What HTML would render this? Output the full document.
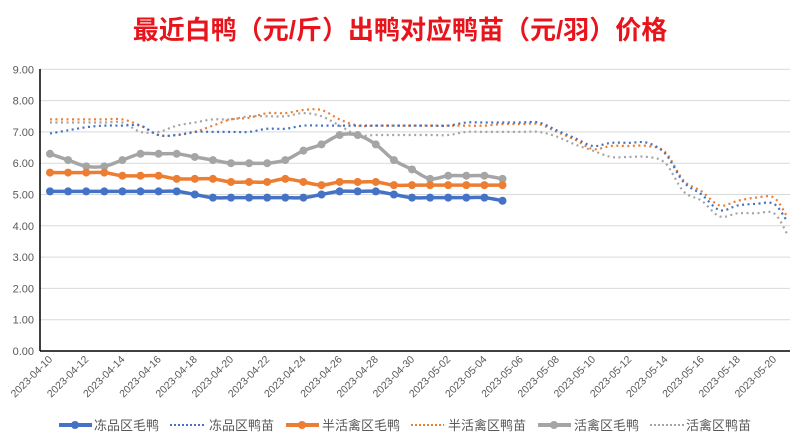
<!DOCTYPE html>
<html><head><meta charset="utf-8"><style>
body{margin:0;background:#fff;width:800px;height:443px;overflow:hidden;font-family:"Liberation Sans","Noto Sans CJK SC",sans-serif}
</style></head><body>
<svg id="s" width="800" height="443" xmlns="http://www.w3.org/2000/svg" font-family="Liberation Sans, Noto Sans CJK SC, sans-serif">
<text x="400" y="39" text-anchor="middle" font-size="26" font-weight="bold" fill="#e8141c">最近白鸭（元/斤）出鸭对应鸭苗（元/羽）价格</text>
<g id="grid"></g><g id="lines"></g><g id="lab"></g>
<g font-size="13" fill="#595959">
<line x1="59" y1="425" x2="92" y2="425" stroke="#4472c4" stroke-width="4"/><circle cx="75" cy="425" r="4" fill="#4472c4"/><text x="94" y="430">冻品区毛鸭</text>
<line x1="170" y1="425" x2="204" y2="425" stroke="#4472c4" stroke-width="2" stroke-dasharray="2 2"/><text x="209" y="430">冻品区鸭苗</text>
<line x1="286" y1="425" x2="319" y2="425" stroke="#ed7d31" stroke-width="4"/><circle cx="302" cy="425" r="4" fill="#ed7d31"/><text x="322" y="430">半活禽区毛鸭</text>
<line x1="411" y1="425" x2="444" y2="425" stroke="#ed7d31" stroke-width="2" stroke-dasharray="2 2"/><text x="448" y="430">半活禽区鸭苗</text>
<line x1="538" y1="425" x2="571" y2="425" stroke="#a5a5a5" stroke-width="4"/><circle cx="554" cy="425" r="4" fill="#a5a5a5"/><text x="574" y="430">活禽区毛鸭</text>
<line x1="650" y1="425" x2="684" y2="425" stroke="#a5a5a5" stroke-width="2" stroke-dasharray="2 2"/><text x="686" y="430">活禽区鸭苗</text>
</g>
</svg>
<script>
const NS="http://www.w3.org/2000/svg";
const X=d=>50+d*18.1, Y=v=>351-31.3*v;
function el(p,t,a){const e=document.createElementNS(NS,t);for(const k in a)e.setAttribute(k,a[k]);p.appendChild(e);return e;}
const g=document.getElementById('grid'),lab=document.getElementById('lab');
for(let i=0;i<=9;i++){const y=Y(i);if(i>0)el(g,'line',{x1:40,x2:790,y1:y,y2:y,stroke:'#d9d9d9','stroke-width':1});
const t=el(g,'text',{x:34,y:y+4,'text-anchor':'end','font-size':11,fill:'#595959'});t.textContent=i.toFixed(2);}
el(g,'line',{x1:40,x2:40,y1:69,y2:351,stroke:'#000','stroke-width':1.5});
el(g,'line',{x1:40,x2:790,y1:351,y2:351,stroke:'#000','stroke-width':1.5});
const dates=[];for(let d=0;d<=40;d+=2){const dt=new Date(Date.UTC(2023,3,10+d));dates.push([d,dt.toISOString().slice(0,10)]);}
dates.forEach(([d,s])=>{const x=X(d)+3,y=360;const t=el(lab,'text',{x:x,y:y,'text-anchor':'end','font-size':10.5,fill:'#595959',transform:`rotate(-45 ${x} ${y})`});t.textContent=s;});
function path(pts){let s=`M${pts[0][0]},${pts[0][1]}`;for(let i=0;i<pts.length-1;i++){const p0=pts[i-1]||pts[i],p1=pts[i],p2=pts[i+1],p3=pts[i+2]||p2;const k=6;
s+=` C${p1[0]+(p2[0]-p0[0])/k},${p1[1]+(p2[1]-p0[1])/k} ${p2[0]-(p3[0]-p1[0])/k},${p2[1]-(p3[1]-p1[1])/k} ${p2[0]},${p2[1]}`;}return s;}
const L=document.getElementById('lines');
function dotted(vals,c){const pts=vals.map((v,i)=>[i<41?X(i):787,Y(v)]);el(L,'path',{d:path(pts),fill:'none',stroke:c,'stroke-width':2.2,'stroke-dasharray':'2 3.5'});}
function solid(vals,c){const pts=vals.map((v,i)=>[X(i),Y(v)]);el(L,'path',{d:path(pts),fill:'none',stroke:c,'stroke-width':3.5});pts.forEach(p=>el(L,'circle',{cx:p[0],cy:p[1],r:4,fill:c}));}
const gd=[7.3,7.3,7.3,7.3,7.3,7.0,7.0,7.2,7.3,7.4,7.4,7.5,7.5,7.5,7.6,7.5,7.2,6.9,6.9,6.9,6.9,6.9,6.9,7.0,7.0,7.0,7.0,7.0,6.85,6.6,6.4,6.2,6.2,6.2,6.0,5.1,4.8,4.3,4.4,4.4,4.4,3.75];
const od=[7.4,7.4,7.4,7.4,7.4,7.2,6.9,6.9,7.0,7.2,7.4,7.45,7.6,7.6,7.7,7.7,7.4,7.2,7.2,7.2,7.2,7.2,7.2,7.2,7.2,7.25,7.25,7.25,7.0,6.75,6.45,6.55,6.55,6.55,6.35,5.45,5.1,4.65,4.8,4.9,4.9,4.3];
const bd=[6.95,7.05,7.15,7.2,7.2,7.2,6.9,6.9,7.0,7.0,7.0,7.0,7.1,7.1,7.2,7.2,7.2,7.2,7.2,7.2,7.2,7.2,7.2,7.3,7.3,7.3,7.3,7.3,7.05,6.8,6.55,6.65,6.65,6.65,6.3,5.4,5.0,4.5,4.65,4.7,4.7,4.15];
dotted(gd,'#a5a5a5');dotted(od,'#ed7d31');dotted(bd,'#4472c4');
solid([6.3,6.1,5.9,5.9,6.1,6.3,6.3,6.3,6.2,6.1,6.0,6.0,6.0,6.1,6.4,6.6,6.9,6.9,6.6,6.1,5.8,5.5,5.6,5.6,5.6,5.5],'#a5a5a5');
solid([5.7,5.7,5.7,5.7,5.6,5.6,5.6,5.5,5.5,5.5,5.4,5.4,5.4,5.5,5.4,5.3,5.4,5.4,5.4,5.3,5.3,5.3,5.3,5.3,5.3,5.3],'#ed7d31');
solid([5.1,5.1,5.1,5.1,5.1,5.1,5.1,5.1,5.0,4.9,4.9,4.9,4.9,4.9,4.9,5.0,5.1,5.1,5.1,5.0,4.9,4.9,4.9,4.9,4.9,4.8],'#4472c4');
</script>
</body></html>
